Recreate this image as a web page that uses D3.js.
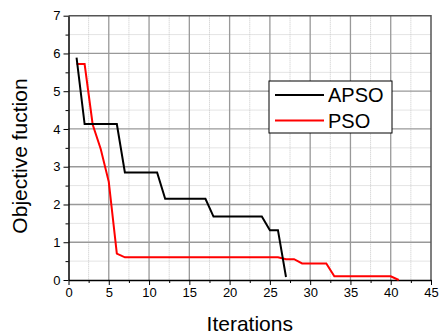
<!DOCTYPE html>
<html>
<head>
<meta charset="utf-8">
<style>
  html, body { margin: 0; padding: 0; background: #fff; }
  svg { display: block; font-family: "Liberation Sans", Arial, sans-serif; }
</style>
</head>
<body>
<svg width="441" height="334"></svg>
<script src="https://cdn.jsdelivr.net/npm/d3@7"></script>
<script>
// values
const apsoIter = [1, 2, 3, 4, 5, 6, 7, 8, 9, 10, 11, 12, 13, 14, 15, 16, 17, 18, 19, 20, 21, 22, 23, 24, 25, 26, 27];
const apsoVal  = [5.89, 4.13, 4.13, 4.13, 4.13, 4.13, 2.85, 2.85, 2.85, 2.85, 2.85, 2.15, 2.15, 2.15, 2.15, 2.15, 2.15,
                  1.68, 1.68, 1.68, 1.68, 1.68, 1.68, 1.68, 1.32, 1.32, 0.08];
const psoIter  = [1, 2, 3, 4, 5, 6, 7, 8, 9, 10, 11, 12, 13, 14, 15, 16, 17, 18, 19, 20, 21, 22, 23, 24, 25, 26, 27,
                  28, 29, 30, 31, 32, 33, 34, 35, 36, 37, 38, 39, 40, 41];
const psoVal   = [5.72, 5.72, 4.12, 3.47, 2.6, 0.7, 0.6, 0.6, 0.6, 0.6, 0.6, 0.6, 0.6, 0.6, 0.6, 0.6, 0.6, 0.6, 0.6,
                  0.6, 0.6, 0.6, 0.6, 0.6, 0.6, 0.6, 0.55, 0.55, 0.44, 0.44, 0.44, 0.44, 0.1, 0.1, 0.1, 0.1, 0.1,
                  0.1, 0.1, 0.1, 0];
const seriesNames = ["APSO", "PSO"];
const seriesColors = ["#000000", "#ff0000"];
const xTicks = [0, 5, 10, 15, 20, 25, 30, 35, 40, 45];
const yTicks = [0, 1, 2, 3, 4, 5, 6, 7];

const svg = d3.select("svg");
const mLeft = 68.5, mRight = 431, mTop = 15.7, mBottom = 280;

const x = d3.scaleLinear().domain([0, 45]).range([mLeft, mRight]);
const y = d3.scaleLinear().domain([0, 7]).range([mBottom, mTop]);

const minorX = d3.range(2.5, 45, 5);
const minorY = d3.range(0.5, 7, 1);

// minor grid (dotted)
svg.append("g").selectAll("line").data(minorX).join("line")
  .attr("x1", d => x(d)).attr("x2", d => x(d)).attr("y1", mTop).attr("y2", mBottom)
  .attr("stroke", "#c8c8c8").attr("stroke-dasharray", "1,1").attr("stroke-width", 1);
svg.append("g").selectAll("line").data(minorY).join("line")
  .attr("y1", d => y(d)).attr("y2", d => y(d)).attr("x1", mLeft).attr("x2", mRight)
  .attr("stroke", "#c8c8c8").attr("stroke-dasharray", "1,1").attr("stroke-width", 1);

// major grid
svg.append("g").selectAll("line").data(xTicks.slice(1, -1)).join("line")
  .attr("x1", d => x(d)).attr("x2", d => x(d)).attr("y1", mTop).attr("y2", mBottom)
  .attr("stroke", "#999").attr("stroke-width", 1.3);
svg.append("g").selectAll("line").data(yTicks.slice(1, -1)).join("line")
  .attr("y1", d => y(d)).attr("y2", d => y(d)).attr("x1", mLeft).attr("x2", mRight)
  .attr("stroke", "#999").attr("stroke-width", 1.3);

// top and right frame
svg.append("path")
  .attr("d", `M${mLeft},${mTop}H${mRight}V${mBottom}`)
  .attr("fill", "none").attr("stroke", "#555").attr("stroke-width", 1.5);

// axes
svg.append("g").attr("transform", `translate(0,${mBottom})`)
  .call(d3.axisBottom(x).tickValues(xTicks).tickFormat(d3.format("d"))
    .tickSize(5).tickPadding(3).tickSizeOuter(0));
svg.append("g").attr("transform", `translate(0,${mBottom})`)
  .call(d3.axisBottom(x).tickValues(minorX).tickSize(3).tickFormat("").tickSizeOuter(0))
  .select(".domain").remove();
svg.append("g").attr("transform", `translate(${mLeft},0)`)
  .call(d3.axisLeft(y).tickValues(yTicks).tickFormat(d3.format("d"))
    .tickSize(5).tickPadding(3).tickSizeOuter(0));
svg.append("g").attr("transform", `translate(${mLeft},0)`)
  .call(d3.axisLeft(y).tickValues(minorY).tickSize(3).tickFormat("").tickSizeOuter(0))
  .select(".domain").remove();

svg.selectAll(".domain").attr("stroke", "#000").attr("stroke-width", 1.5);
svg.selectAll(".tick line").attr("stroke", "#000").attr("stroke-width", 1);
svg.selectAll(".tick text").attr("font-size", 13).attr("fill", "#000")
  .attr("font-family", "Liberation Sans, Arial, sans-serif");

// lines
const line = d3.line().x(d => x(d[0])).y(d => y(d[1]));
const apso = d3.zip(apsoIter, apsoVal);
const pso = d3.zip(psoIter, psoVal);

svg.append("path").datum(pso).attr("d", line)
  .attr("fill", "none").attr("stroke", seriesColors[1]).attr("stroke-width", 2);
svg.append("path").datum(apso).attr("d", line)
  .attr("fill", "none").attr("stroke", seriesColors[0]).attr("stroke-width", 2);

// legend
const lg = svg.append("g").attr("transform", "translate(269,81)");
lg.append("rect").attr("width", 123).attr("height", 52)
  .attr("fill", "#fff").attr("stroke", "#000").attr("stroke-width", 1);
seriesNames.forEach((name, i) => {
  const cy = 14 + i * 25.5;
  lg.append("line").attr("x1", 6).attr("x2", 55).attr("y1", cy).attr("y2", cy)
    .attr("stroke", seriesColors[i]).attr("stroke-width", 2);
  lg.append("text").attr("x", 59).attr("y", cy + 7).attr("font-size", 20).text(name);
});

// titles
svg.append("text").attr("x", (mLeft + mRight) / 2).attr("y", 331)
  .attr("text-anchor", "middle").attr("font-size", 21).text("Iterations");
svg.append("text").attr("transform", "translate(27,156) rotate(-90)")
  .attr("text-anchor", "middle").attr("font-size", 21).text("Objective fuction");
</script>
</body>
</html>
